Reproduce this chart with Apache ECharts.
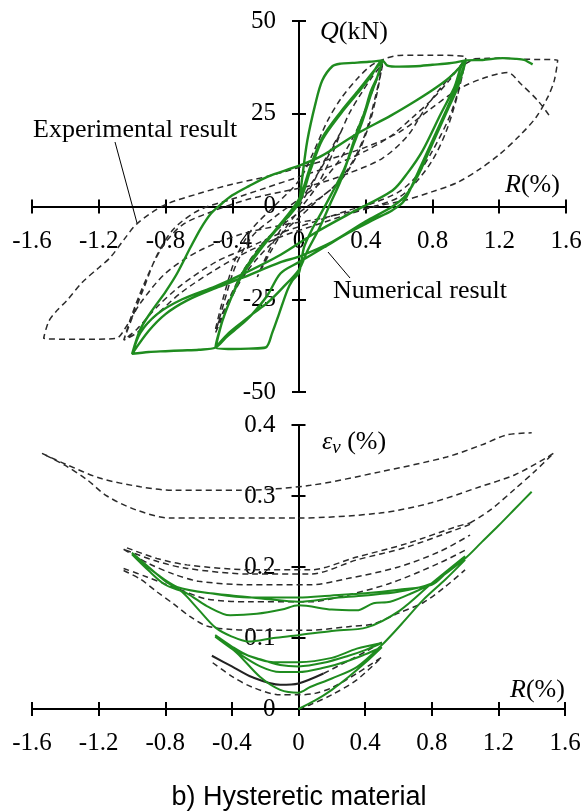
<!DOCTYPE html>
<html>
<head>
<meta charset="utf-8">
<script src="https://cdn.jsdelivr.net/npm/echarts@6/dist/echarts.min.js"></script>
<style>
html,body{margin:0;padding:0;background:#fff;}
#c{width:585px;height:811px;}
</style>
</head>
<body>
<div id="c"></div>
<script>
// ---------- Tick values ----------
const xTicks = { min: -1.6, max: 1.6, interval: 0.4 };
const qTicks = { min: -50, max: 50, interval: 25 };
const eTicks = { min: 0, max: 0.4, interval: 0.1 };

// ---------- Top panel: Q (kN) vs R (%) ----------
// Numerical result (green), continuous loading path
const numTop = [
  [0,0],[0.02,8],[0.05,17.8],[0.1,28],[0.14,34],[0.2,37.8],[0.25,38.5],[0.32,38.7],[0.42,39],[0.5,39.4],
  [0.47,35],[0.43,30],[0.38,23],[0.33,17],[0.27,10],[0.19,3],[0.13,-2],[0.08,-6],[0.03,-11],[0,-17.8],[-0.04,-20],[-0.07,-22.6],[-0.12,-29],[-0.16,-34],[-0.2,-38],[-0.3,-38.3],[-0.4,-38.4],[-0.5,-38],
  [-0.46,-31],[-0.41,-25],[-0.34,-18],[-0.23,-11],[-0.13,-5.7],[0,2],[0.07,11],[0.14,18.6],[0.25,25.5],[0.35,31],[0.43,35.5],[0.5,39.4],
  [0.47,35],[0.43,31],[0.39,25],[0.35,20.5],[0.31,15],[0.25,7],[0.19,1],[0.12,-6],[0.05,-12],[0,-17],[-0.1,-22],[-0.19,-26],[-0.28,-29],[-0.35,-31.5],[-0.43,-34.5],[-0.5,-38],
  [-0.46,-31],[-0.41,-25],[-0.34,-18.5],[-0.23,-11.5],[-0.13,-6],[0,1],[0.07,10],[0.14,18],[0.25,25],[0.35,30.5],[0.43,35],[0.5,39.4],[0.53,38],[0.6,37.7],[0.7,37.8],[0.8,38.2],[0.9,38.6],[1.0,39.4],
  [0.95,33],[0.89,26.7],[0.8,17.8],[0.71,8.9],[0.63,1.5],[0.56,-1],[0.45,-3.5],[0.3,-7],[0.15,-11],[0,-15],[-0.11,-18],[-0.19,-24],[-0.28,-29],[-0.35,-32],[-0.43,-35],[-0.5,-38],[-0.6,-38.6],[-0.7,-38.8],[-0.8,-39],[-0.9,-39.2],[-1.0,-39.7],
  [-0.95,-33],[-0.88,-28],[-0.8,-23],[-0.73,-18],[-0.65,-11],[-0.59,-6],[-0.53,-2],[-0.47,0.5],[-0.4,3],[-0.3,5.5],[-0.19,8],[0,11],[0.13,13.5],[0.35,19.7],[0.55,24.5],[0.7,28.5],[0.82,32],[0.92,35.5],[1.0,39.4],
  [0.95,32],[0.89,26],[0.8,17],[0.72,9],[0.64,3],[0.56,0],[0.4,-4],[0.2,-9.5],[0,-13.5],[-0.11,-15],[-0.35,-19.4],[-0.5,-22],[-0.67,-25.3],[-0.8,-29],[-0.9,-33.5],[-1.0,-39.7],
  [-0.95,-34],[-0.85,-29],[-0.7,-25],[-0.5,-21.5],[-0.35,-18.5],[-0.11,-13],[0.1,-7],[0.3,-2],[0.56,4.3],[0.65,9],[0.74,15],[0.85,25],[0.93,32],[1.0,39.4],
  [1.1,39.5],[1.22,40],[1.3,39.8],[1.35,39.5],[1.38,38.8],[1.4,38.3]
];
// Experimental result (dashed), three stages
const expTopA = [
  [0,0],[0.08,6],[0.16,13],[0.25,20],[0.18,12],[0.1,5],[0,-1],[-0.1,-7],[-0.18,-13],[-0.25,-19],[-0.17,-11],[-0.08,-4],[0,1],[0.1,8],[0.18,14],[0.25,20],[0.3,25],[0.38,31],[0.44,35],[0.5,38.5],
  [0.47,31],[0.42,22],[0.35,14],[0.25,7],[0.12,2],[0,-3],[-0.12,-8],[-0.25,-14],[-0.35,-20],[-0.43,-27],[-0.5,-34],
  [-0.45,-26],[-0.38,-16],[-0.28,-8],[-0.15,-3],[0,2],[0.12,6],[0.25,13],[0.35,21],[0.43,30],[0.5,38],
  [0.46,30],[0.4,20],[0.32,12],[0.2,5],[0.05,0],[-0.1,-5],[-0.22,-10],[-0.33,-17],[-0.42,-25],[-0.5,-33]
];
const expTopB = [
  [-0.5,-33],[-0.45,-24],[-0.38,-14],[-0.28,-6],[-0.15,0],[0,7],[0.08,14],[0.17,23],[0.25,29],[0.35,34.5],[0.45,38.5],[0.6,40.7],[0.8,40.8],[1.0,40.2],
  [0.95,30],[0.88,20],[0.8,12.5],[0.7,6.5],[0.6,2.5],[0.45,0],[0.3,-2],[0.1,-5],[-0.1,-8],[-0.3,-12],[-0.5,-17],[-0.7,-23],[-0.85,-29],[-0.97,-34],[-1.05,-36],
  [-1.0,-30],[-0.93,-22],[-0.85,-13],[-0.75,-6],[-0.6,-1],[-0.4,2],[-0.2,5],[0,8],[0.2,11],[0.4,15],[0.55,19],[0.68,24],[0.8,29],[0.9,34],[1.0,40],
  [0.96,32],[0.9,24],[0.8,15],[0.7,8],[0.6,4],[0.45,1],[0.3,-1],[0.1,-4],[-0.1,-7],[-0.3,-11],[-0.5,-15],[-0.7,-21],[-0.85,-27],[-0.97,-33],[-1.05,-36],
  [-1.0,-29],[-0.92,-20],[-0.82,-11],[-0.7,-5],[-0.5,-1],[-0.3,2],[-0.1,4],[0.1,6],[0.3,9],[0.5,13],[0.65,19],[0.75,26],[0.85,32],[0.95,37],[1.05,39.8]
];
const expTopC = [
  [1.05,39.8],[1.2,40],[1.35,39.7],[1.55,39.4],
  [1.53,34],[1.49,29.4],[1.42,24],[1.32,19],[1.2,14],[1.08,10],[0.95,6.5],[0.8,4],[0.62,1.5],[0.45,0],[0.3,-1.5],[0.1,-3.5],[-0.1,-5],[-0.35,-7.5],[-0.6,-12],[-0.8,-18],[-0.95,-26],[-1.03,-32],[-1.1,-35.6],[-1.3,-35.8],[-1.53,-35.5],
  [-1.5,-31],[-1.45,-28],[-1.39,-25.3],[-1.3,-20.5],[-1.2,-16.5],[-1.13,-13.7],[-1.05,-9],[-0.97,-4.6],[-0.81,0.3],[-0.6,3.5],[-0.4,6],[-0.2,8],[0,10.5],[0.2,13],[0.4,16],[0.6,20],[0.78,26],[0.95,31.5],[1.1,34.5],[1.25,36.1],[1.33,33],[1.43,28.6],[1.5,24.5]
];

// ---------- Bottom panel: eps_v (%) vs R (%) ----------
const numEps = [
  [0,0],[0.1,0.012],[0.2,0.027],[0.3,0.045],[0.4,0.065],[0.5,0.087],
  [0.4,0.077],[0.3,0.068],[0.15,0.058],[0,0.052],[-0.11,0.052],[-0.23,0.06],[-0.37,0.08],[-0.5,0.102],
  [-0.37,0.082],[-0.23,0.07],[-0.11,0.062],[0,0.06],[0.15,0.065],[0.3,0.075],[0.4,0.083],[0.5,0.093],
  [0.35,0.085],[0.2,0.072],[0,0.066],[-0.15,0.066],[-0.3,0.075],[-0.4,0.088],[-0.5,0.104],
  [-0.37,0.079],[-0.23,0.045],[-0.11,0.027],[0,0.023],[0.07,0.031],[0.2,0.043],[0.35,0.059],[0.5,0.09],[0.62,0.12],[0.75,0.154],[0.88,0.182],[1.0,0.21],
  [0.9,0.195],[0.8,0.177],[0.6,0.165],[0.4,0.16],[0.2,0.156],[0,0.151],[-0.2,0.155],[-0.4,0.16],[-0.6,0.165],[-0.73,0.172],[-0.85,0.19],[-1.0,0.22],
  [-0.9,0.2],[-0.8,0.18],[-0.7,0.165],[-0.6,0.14],[-0.5,0.115],[-0.4,0.102],[-0.3,0.095],[-0.15,0.1],[0,0.104],[0.2,0.11],[0.41,0.115],[0.61,0.139],[0.8,0.177],[1.0,0.215],
  [0.9,0.195],[0.8,0.175],[0.6,0.168],[0.4,0.163],[0.2,0.16],[0,0.157],[-0.3,0.157],[-0.5,0.162],[-0.73,0.172],[-0.85,0.19],[-1.0,0.218],
  [-0.9,0.195],[-0.8,0.175],[-0.67,0.163],[-0.55,0.145],[-0.41,0.132],[-0.25,0.134],[-0.1,0.14],[0,0.146],[0.2,0.14],[0.35,0.139],[0.45,0.149],[0.55,0.151],[0.67,0.162],[0.8,0.177],[1.0,0.212],
  [1.1,0.235],[1.2,0.258],[1.3,0.282],[1.4,0.306]
];
const expEpsA = [[0,0],[0.07,0.006],[0.2,0.02],[0.35,0.041],[0.5,0.073],[0.35,0.05],[0.2,0.03],[0.1,0.022],[0,0.02],[-0.11,0.02],[-0.28,0.031],[-0.4,0.046],[-0.52,0.066]];
const expEpsSolid = [[-0.52,0.075],[-0.4,0.06],[-0.28,0.045],[-0.11,0.034],[0,0.036],[0.15,0.05]];
const expEpsB = [[0.15,0.05],[0.3,0.068],[0.42,0.083],[0.52,0.097]];
const expEpsC = [[-1.05,0.195],[-0.95,0.183],[-0.85,0.165],[-0.75,0.148],[-0.65,0.13],[-0.55,0.117],[-0.4,0.112],[-0.2,0.111],[0.07,0.111],[0.3,0.116],[0.45,0.12],[0.6,0.135],[0.75,0.15],[0.88,0.172],[1.0,0.196]];
const expEpsD = [[-1.05,0.198],[-0.91,0.186],[-0.71,0.168],[-0.55,0.155],[-0.3,0.151],[0.07,0.151],[0.25,0.158],[0.55,0.177],[0.85,0.206],[1.02,0.226]];
const expEpsE = [[-1.05,0.225],[-0.9,0.205],[-0.75,0.19],[-0.6,0.18],[-0.3,0.175],[0.07,0.175],[0.3,0.184],[0.6,0.2],[0.85,0.222],[1.03,0.245]];
const expEpsF = [[-1.04,0.224],[-0.85,0.208],[-0.67,0.198],[-0.28,0.19],[0.07,0.19],[0.35,0.21],[0.65,0.228],[0.95,0.253],[1.03,0.26]];
const expEpsG = [[-1.03,0.227],[-0.85,0.212],[-0.67,0.203],[-0.28,0.196],[0.07,0.196],[0.35,0.214],[0.65,0.233],[0.95,0.257],[1.03,0.262]];
const expEpsH = [[1.03,0.262],[1.15,0.28],[1.3,0.31],[1.42,0.335],[1.53,0.36]];
const expEpsI = [[1.53,0.36],[1.49,0.354],[1.3,0.33],[1.09,0.313],[0.79,0.29],[0.49,0.276],[0,0.269],[-0.4,0.269],[-0.77,0.269],[-0.97,0.28],[-1.15,0.3],[-1.27,0.323],[-1.4,0.343],[-1.54,0.36]];
const expEpsJ = [[-1.54,0.36],[-1.4,0.345],[-1.19,0.325],[-0.95,0.313],[-0.75,0.308],[-0.34,0.308],[0.07,0.315],[0.49,0.334],[0.89,0.355],[1.1,0.372],[1.25,0.386],[1.4,0.389]];

// ---------- Layout ----------
const SERIF = 'Liberation Serif';
const GREEN = '#1f8c1f';
const grids = [
  { left: 32, top: 21, width: 534, height: 371 },
  { left: 32, top: 425, width: 533, height: 284 }
];
const yRanges = [qTicks, eTicks];

const chart = echarts.init(document.getElementById('c'), null, { renderer: 'canvas' });

// Offset that moves an edge axis onto the other axis' zero value
function zeroOffset(range, length) {
  return -length * (0 - range.min) / (range.max - range.min);
}
function xAx(gi, dup) {
  return {
    gridIndex: gi, type: 'value', position: 'bottom', min: xTicks.min, max: xTicks.max, interval: xTicks.interval,
    offset: zeroOffset(yRanges[gi], grids[gi].height),
    axisLine: { show: true, onZero: false, lineStyle: { color: '#000', width: 2 } },
    axisTick: { show: true, inside: dup, length: 7, lineStyle: { color: '#000', width: 2 } },
    axisLabel: { show: !dup, margin: 22, color: '#000', fontFamily: SERIF, fontSize: 25,
      formatter: v => String(Math.round(v * 10) / 10) },
    splitLine: { show: false }
  };
}
function yAx(gi, dup, fmt) {
  const t = yRanges[gi];
  return {
    gridIndex: gi, type: 'value', position: 'left', min: t.min, max: t.max, interval: t.interval,
    offset: zeroOffset(xTicks, grids[gi].width),
    axisLine: { show: true, onZero: false, lineStyle: { color: '#000', width: 2 } },
    axisTick: { show: true, inside: dup, length: 7, lineStyle: { color: '#000', width: 2 } },
    axisLabel: { show: !dup, margin: 23, color: '#000', fontFamily: SERIF, fontSize: 25, formatter: fmt },
    splitLine: { show: false }
  };
}
function ser(data, gi, style, z) {
  return {
    type: 'line', data: data, xAxisIndex: gi * 2, yAxisIndex: gi * 2,
    showSymbol: false, symbol: 'none', smooth: 0.3, silent: true, z: z,
    lineStyle: style
  };
}
const dashStyle = { color: '#2b2b2b', width: 1.5, type: [6, 4] };
const fmtQ = v => String(v);
const fmtE = v => String(Math.round(v * 10) / 10);

chart.setOption({
  animation: false,
  backgroundColor: '#fff',
  grid: grids.map(g => Object.assign({ containLabel: false, outerBoundsMode: 'none' }, g)),
  xAxis: [xAx(0, false), xAx(0, true), xAx(1, false), xAx(1, true)],
  yAxis: [yAx(0, false, fmtQ), yAx(0, true, fmtQ), yAx(1, false, fmtE), yAx(1, true, fmtE)],
  series: [
    ser(expTopA, 0, dashStyle, 3),
    ser(expTopB, 0, dashStyle, 3),
    ser(expTopC, 0, dashStyle, 3),
    ser(numTop, 0, { color: GREEN, width: 2.4 }, 5),
    ser(expEpsA, 1, dashStyle, 3),
    ser(expEpsSolid, 1, { color: '#222', width: 2 }, 3),
    ser(expEpsB, 1, dashStyle, 3),
    ser(expEpsC, 1, dashStyle, 3),
    ser(expEpsD, 1, dashStyle, 3),
    ser(expEpsE, 1, dashStyle, 3),
    ser(expEpsF, 1, dashStyle, 3),
    ser(expEpsG, 1, dashStyle, 3),
    ser(expEpsH, 1, dashStyle, 3),
    ser(expEpsI, 1, dashStyle, 3),
    ser(expEpsJ, 1, dashStyle, 3),
    ser(numEps, 1, { color: GREEN, width: 2 }, 5)
  ],
  graphic: [
    { type: 'text', x: 320, y: 32, z: 10, style: { text: '{i|Q}{n|(kN)}', verticalAlign: 'middle', align: 'left',
      rich: { i: { fontFamily: SERIF, fontSize: 26, fontStyle: 'italic', fill: '#000' }, n: { fontFamily: SERIF, fontSize: 26, fill: '#000' } } } },
    { type: 'text', x: 505, y: 185, z: 10, style: { text: '{i|R}{n|(%)}', verticalAlign: 'middle', align: 'left',
      rich: { i: { fontFamily: SERIF, fontSize: 26, fontStyle: 'italic', fill: '#000' }, n: { fontFamily: SERIF, fontSize: 26, fill: '#000' } } } },
    { type: 'text', x: 510, y: 690, z: 10, style: { text: '{i|R}{n|(%)}', verticalAlign: 'middle', align: 'left',
      rich: { i: { fontFamily: SERIF, fontSize: 26, fontStyle: 'italic', fill: '#000' }, n: { fontFamily: SERIF, fontSize: 26, fill: '#000' } } } },
    { type: 'text', x: 322, y: 442, z: 10, style: { text: '{e|ε}{v|v}{n| (%)}', verticalAlign: 'middle', align: 'left',
      rich: {
        e: { fontFamily: SERIF, fontSize: 26, fontStyle: 'italic', fill: '#000', lineHeight: 30, verticalAlign: 'middle' },
        v: { fontFamily: SERIF, fontSize: 19, fontStyle: 'italic', fill: '#000', lineHeight: 18, verticalAlign: 'bottom' },
        n: { fontFamily: SERIF, fontSize: 26, fill: '#000', lineHeight: 30, verticalAlign: 'middle' } } } },
    { type: 'text', x: 33, y: 130, z: 10, style: { text: 'Experimental result', font: '26px "Liberation Serif"', fill: '#000', verticalAlign: 'middle', align: 'left' } },
    { type: 'text', x: 333, y: 291, z: 10, style: { text: 'Numerical result', font: '26px "Liberation Serif"', fill: '#000', verticalAlign: 'middle', align: 'left' } },
    { type: 'line', z: 10, shape: { x1: 115, y1: 142, x2: 137, y2: 223 }, style: { stroke: '#000', lineWidth: 1 } },
    { type: 'line', z: 10, shape: { x1: 328, y1: 252, x2: 350, y2: 278 }, style: { stroke: '#000', lineWidth: 1 } },
    { type: 'text', x: 299, y: 798, z: 10, style: { text: 'b) Hysteretic material', font: '27px "Liberation Sans"', fill: '#000', verticalAlign: 'middle', align: 'center' } }
  ]
});
</script>
</body>
</html>
